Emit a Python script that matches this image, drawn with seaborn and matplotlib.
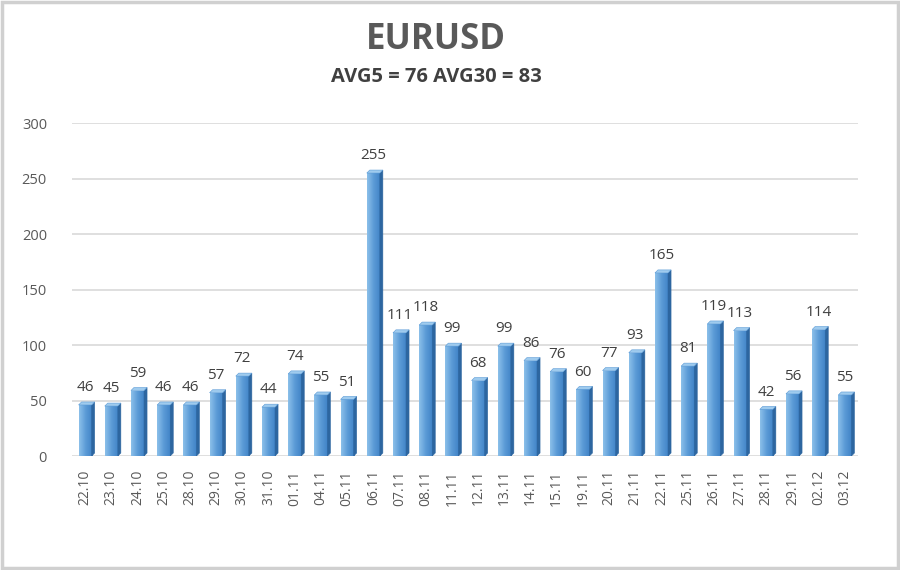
import matplotlib
matplotlib.use("Agg")
import matplotlib.pyplot as plt
import seaborn as sns
import numpy as np
import pandas as pd
from matplotlib.patches import Polygon, Rectangle

dates = ["22.10", "23.10", "24.10", "25.10", "28.10", "29.10", "30.10", "31.10",
         "01.11", "04.11", "05.11", "06.11", "07.11", "08.11", "11.11", "12.11",
         "13.11", "14.11", "15.11", "19.11", "20.11", "21.11", "22.11", "25.11",
         "26.11", "27.11", "28.11", "29.11", "02.12", "03.12"]
values = [46, 45, 59, 46, 46, 57, 72, 44, 74, 55, 51, 255, 111, 118, 99, 68,
          99, 86, 76, 60, 77, 93, 165, 81, 119, 113, 42, 56, 114, 55]
title = "EURUSD"
subtitle = "AVG5 = 76 AVG30 = 83"
yticks = [0, 50, 100, 150, 200, 250, 300]

df = pd.DataFrame({"date": dates, "value": values})

sns.set_theme(style="white")
plt.rcParams["font.family"] = ["Open Sans", "DejaVu Sans"]

fig = plt.figure(figsize=(9, 5.7), dpi=100)
ax = fig.add_axes([72 / 900, 0.2, 786 / 900, 0.584])

sns.barplot(data=df, x="date", y="value", color="#5b9bd5", width=0.5,
            edgecolor="#3a78b5", linewidth=0.6, ax=ax, zorder=3)

ax.set_ylim(0, 300)
ax.set_xlim(-0.5, len(dates) - 0.5)
ax.set_yticks(yticks)
ax.yaxis.grid(True, color="#d9d9d9", linewidth=1.2, zorder=0)
ax.set_axisbelow(True)
for s in ax.spines.values():
    s.set_visible(False)
ax.set_xlabel("")
ax.set_ylabel("")
ax.tick_params(axis="y", colors="#595959", labelsize=10.5, length=0, pad=18)
ax.tick_params(axis="x", colors="#595959", labelsize=10, length=0, pad=10)
plt.setp(ax.get_xticklabels(), rotation=90)

# gradient + 3D side faces derived from bar patches
grad = np.linspace(0, 1, 64).reshape(1, -1)
cmap = matplotlib.colors.LinearSegmentedColormap.from_list("b", ["#8cc0ea", "#5a9ad6", "#3f82c6"])
px_x = (ax.get_xlim()[1] - ax.get_xlim()[0]) / 786.0
px_y = 300 / (0.584 * 570)
for p in list(ax.patches):
    x, y = p.get_x(), p.get_y()
    w, h = p.get_width(), p.get_height()
    im = ax.imshow(grad, extent=[x, x + w, y, y + h], aspect="auto", cmap=cmap,
                   zorder=3.5)
    im.set_clip_path(p)
    dx, dy = 3 * px_x, 3 * px_y
    side = Polygon([[x + w, y], [x + w + dx, y + dy], [x + w + dx, y + h + dy], [x + w, y + h]],
                   closed=True, facecolor="#2d66a0", edgecolor="#2d66a0", lw=0.4, zorder=3.6)
    top = Polygon([[x, y + h], [x + dx, y + h + dy], [x + w + dx, y + h + dy], [x + w, y + h]],
                  closed=True, facecolor="#9fcbee", edgecolor="#5a9ad6", lw=0.4, zorder=3.6)
    ax.add_patch(side)
    ax.add_patch(top)
    ax.annotate(f"{int(round(h))}", (x + w / 2, y + h), xytext=(0, 7),
                textcoords="offset points", ha="center", va="bottom",
                fontsize=11, color="#404040", zorder=5)
ax.set_ylim(0, 300)
ax.set_xlim(-0.5, len(dates) - 0.5)

fig.text(436 / 900, 1 - 40 / 570, title, ha="center", va="center", fontsize=25,
         fontweight="bold", color="#595959")
fig.text(436 / 900, 1 - 77 / 570, subtitle, ha="center", va="center", fontsize=14.5,
         fontweight="bold", color="#404040")

fig.patches.append(Rectangle((0.002, 0.003), 0.996, 0.994, transform=fig.transFigure,
                             fill=False, edgecolor="#d0d0d0", linewidth=2.5))

fig.savefig("out.png", dpi=100)
